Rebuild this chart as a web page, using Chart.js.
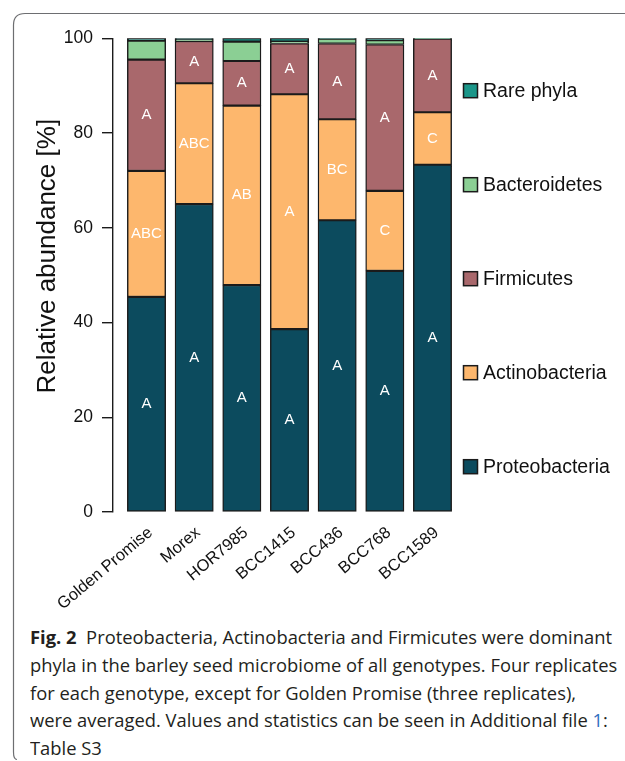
<!DOCTYPE html>
<html>
<head>
<meta charset="utf-8">
<script src="https://cdn.jsdelivr.net/npm/chart.js@4/dist/chart.umd.min.js"></script>
<style>
  html, body { margin: 0; padding: 0; background: #fff; }
  #page { position: relative; width: 625px; height: 761px; overflow: hidden; }
  #frame { position: absolute; left: 0; top: 0; }
  #plot { position: absolute; left: 0; top: 0; width: 625px; height: 620px; }
  #caption {
    position: absolute; left: 30px; top: 624px;
    font-family: "Open Sans", "Noto Sans", sans-serif; font-size: 18px;
    line-height: 27.8px; color: #231f20; white-space: nowrap;
    transform-origin: 0 0;
  }
  #caption b { font-weight: 700; }
  #caption .ref { color: #2f6fc0; }
</style>
</head>
<body>
<div id="page">
  <svg id="frame" width="625" height="761">
    <path d="M 17 759.5 Q 13.5 759.5 13.5 752 L 13.5 25 Q 13.5 13.5 25 13.5 L 625 13.5"
          fill="none" stroke="#6d6e71" stroke-width="1.2"/>
  </svg>
  <div id="plot"><canvas id="chart" width="625" height="620"></canvas></div>
  <div id="caption">
    <div><b>Fig. 2</b>&nbsp; Proteobacteria, Actinobacteria and Firmicutes were dominant</div>
    <div>phyla in the barley seed microbiome of all genotypes. Four replicates</div>
    <div>for each genotype, except for Golden Promise (three replicates),</div>
    <div>were averaged. Values and statistics can be seen in Additional file <span class="ref">1</span>:</div>
    <div>Table S3</div>
  </div>
</div>
<script>
// Mean relative abundance (%) of each phylum per barley genotype
const categories = ['Golden Promise', 'Morex', 'HOR7985', 'BCC1415', 'BCC436', 'BCC768', 'BCC1589'];
const proteobacteria = [45.4, 65.0, 47.9, 38.6, 61.6, 50.9, 73.3];
const actinobacteria = [26.6, 25.5, 37.9, 49.6, 21.3, 16.9, 11.1];
const firmicutes     = [23.5,  8.9,  9.4, 10.7, 16.0, 30.9, 15.5];
const bacteroidetes  = [ 4.0,  0.3,  4.1,  0.4,  1.0,  0.9, 0.05];
const rarePhyla      = [ 0.5,  0.3,  0.7,  0.7,  0.1,  0.4, 0.05];

// Significance letters shown inside the segments
const proteoLetters     = ['A', 'A', 'A', 'A', 'A', 'A', 'A'];
const actinoLetters     = ['ABC', 'ABC', 'AB', 'A', 'BC', 'C', 'C'];
const firmicutesLetters = ['A', 'A', 'A', 'A', 'A', 'A', 'A'];

const yTicks = [0, 20, 40, 60, 80, 100];

const FONT = '"Liberation Sans", Arial, Helvetica, sans-serif';
const INK = '#1b1b1b';

const toPoints = arr => arr.map((v, i) => ({ x: i, y: v }));

function series(label, values, color, letters) {
  return {
    label,
    data: toPoints(values),
    backgroundColor: color,
    borderColor: INK,
    borderWidth: 1.4,
    borderSkipped: false,
    barThickness: 38.3,
    letters
  };
}

const datasets = [
  series('Proteobacteria', proteobacteria, '#0c4b5e', proteoLetters),
  series('Actinobacteria', actinobacteria, '#fdb76d', actinoLetters),
  series('Firmicutes', firmicutes, '#a9686c', firmicutesLetters),
  series('Bacteroidetes', bacteroidetes, '#8bcf94', null),
  series('Rare phyla', rarePhyla, '#1b9689', null)
];

// White letters centred in each labelled segment
const letterPlugin = {
  id: 'segmentLetters',
  afterDatasetsDraw(chart) {
    const ctx = chart.ctx;
    ctx.save();
    ctx.fillStyle = '#ffffff';
    ctx.font = '15px ' + FONT;
    ctx.textAlign = 'center';
    ctx.textBaseline = 'middle';
    chart.data.datasets.forEach((ds, di) => {
      if (!ds.letters) return;
      chart.getDatasetMeta(di).data.forEach((bar, i) => {
        const txt = ds.letters[i];
        if (!txt) return;
        ctx.fillText(txt, bar.x, (bar.y + bar.base) / 2);
      });
    });
    ctx.restore();
  }
};

// Axis title and the legend column at the right
const sidePlugin = {
  id: 'sideDecor',
  afterDraw(chart) {
    const ctx = chart.ctx;
    const ys = chart.scales.y;
    ctx.save();
    ctx.fillStyle = '#111';
    ctx.font = '26px ' + FONT;
    ctx.textAlign = 'center';
    ctx.textBaseline = 'middle';
    ctx.translate(48, ys.getPixelForValue(54));
    ctx.rotate(-Math.PI / 2);
    ctx.fillText('Relative abundance [%]', 0, 0);
    ctx.restore();

    ctx.save();
    ctx.font = '19.5px ' + FONT;
    ctx.textBaseline = 'middle';
    ctx.textAlign = 'left';
    const rows = chart.data.datasets.slice().reverse();
    const x0 = 463.5, top = 90.7, step = 94;
    rows.forEach((ds, k) => {
      const cy = top + k * step;
      ctx.fillStyle = ds.backgroundColor;
      ctx.fillRect(x0, cy - 7, 14, 14);
      ctx.strokeStyle = INK;
      ctx.lineWidth = 1.5;
      ctx.strokeRect(x0, cy - 7, 14, 14);
      ctx.fillStyle = '#111';
      ctx.fillText(ds.label, 483, cy + 1);
    });
    ctx.restore();
  }
};

new Chart(document.getElementById('chart'), {
  type: 'bar',
  data: { datasets },
  plugins: [letterPlugin, sidePlugin],
  options: {
    responsive: false,
    animation: false,
    events: [],
    layout: { padding: { top: 38.3, right: 159, bottom: 0, left: 0 } },
    plugins: { legend: { display: false }, tooltip: { enabled: false } },
    scales: {
      x: {
        type: 'linear',
        stacked: true,
        offset: false,
        min: -0.703,
        max: 6.703,
        afterBuildTicks: s => { s.ticks = categories.map((c, i) => ({ value: i })); },
        afterFit: s => { s.height = 620 - 512; },
        grid: { display: false, offset: false },
        border: { display: false },
        ticks: {
          autoSkip: false,
          minRotation: 40,
          maxRotation: 40,
          padding: 3,
          labelOffset: 4,
          color: '#111',
          font: { family: FONT, size: 16.5 },
          callback: v => categories[v]
        }
      },
      y: {
        stacked: true,
        min: 0,
        max: 100,
        afterBuildTicks: s => { s.ticks = yTicks.map(v => ({ value: v })); },
        afterFit: s => { s.width = 113; },
        grid: { drawOnChartArea: false, tickLength: 11, color: INK, lineWidth: 1.4 },
        border: { color: INK, width: 1.4 },
        ticks: {
          padding: 9,
          color: '#111',
          font: { family: FONT, size: 17.5 }
        }
      }
    }
  }
});

// Fit the caption lines to the text column width
(function fitCaption() {
  const cap = document.getElementById('caption');
  const first = cap.firstElementChild;
  const range = document.createRange();
  range.selectNodeContents(first);
  const w = range.getBoundingClientRect().width;
  if (w > 0) cap.style.transform = 'scaleX(' + (582 / w) + ')';
})();
</script>
</body>
</html>
